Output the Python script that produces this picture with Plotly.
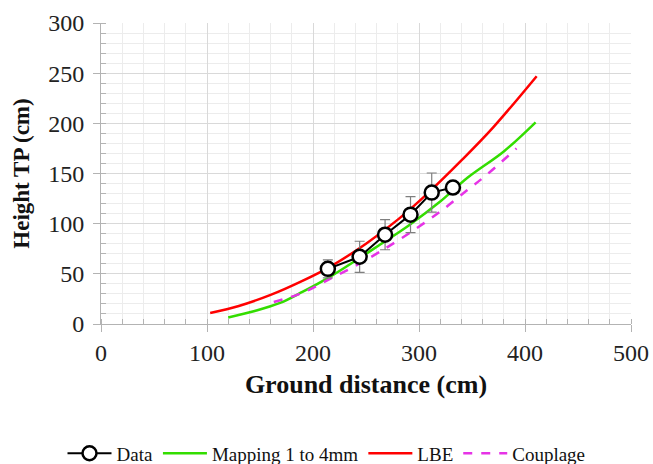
import plotly.graph_objects as go

# Measured data points
data_x = [214, 244, 268, 292, 312, 332]
data_y = [55, 67, 89, 109, 131, 136]
data_err = [9, 15.5, 15, 18, 19.5, 0]

# Model curves
map_x = [120, 145, 169, 190, 216, 240, 263, 290, 320, 346, 380, 410]
map_y = [6.5, 13, 21, 32, 47, 63, 79, 98, 122, 146, 172, 201]

lbe_x = [103, 130, 160, 190, 216, 250, 280, 310, 340, 370, 411]
lbe_y = [11, 18, 29, 43, 57, 80, 104, 132, 163, 196, 247]

coup_x = [163, 190, 216, 240, 263, 290, 320, 345, 363, 392]
coup_y = [22, 31, 45, 58, 72, 90, 112, 133, 148, 175]

FONT = "Liberation Serif, Times New Roman, serif"

fig = go.Figure()
fig.add_trace(go.Scatter(
    x=map_x, y=map_y, name="Mapping 1 to 4mm", mode="lines", legendrank=2,
    line=dict(color="#33dd00", width=2.5, shape="spline"),
))
fig.add_trace(go.Scatter(
    x=lbe_x, y=lbe_y, name="LBE", mode="lines", legendrank=3,
    line=dict(color="#ff0000", width=2.5, shape="spline"),
))
fig.add_trace(go.Scatter(
    x=coup_x, y=coup_y, name="Couplage", mode="lines", legendrank=4,
    line=dict(color="#e633e6", width=2.5, dash="dash", shape="spline"),
))
fig.add_trace(go.Scatter(
    x=data_x, y=data_y, name="Data", mode="lines+markers", legendrank=1,
    line=dict(color="black", width=2),
    marker=dict(symbol="circle", size=14, color="white", line=dict(color="black", width=2.5)),
    error_y=dict(type="data", array=data_err, visible=True, color="#7f7f7f", thickness=1.2, width=5),
))

axis_common = dict(
    showline=True, linecolor="#b3b3b3", linewidth=1,
    gridcolor="#d9d9d9", gridwidth=1,
    ticks="outside", ticklen=7, tickcolor="#b3b3b3",
    tickfont=dict(family=FONT, size=24, color="#222"),
    zeroline=False, mirror=False,
)

fig.update_xaxes(
    range=[0, 500], dtick=100, **axis_common,
    minor=dict(dtick=20, showgrid=True, gridcolor="#ececec", ticks="inside", ticklen=5, tickcolor="#b3b3b3"),
    title=dict(text="<b>Ground distance (cm)</b>", font=dict(family=FONT, size=26, color="#111"), standoff=10),
    ticklabelstandoff=0,
)
fig.update_yaxes(
    range=[0, 300], dtick=50, **axis_common,
    minor=dict(dtick=10, showgrid=True, gridcolor="#ececec", ticks="inside", ticklen=5, tickcolor="#b3b3b3"),
    title=dict(text="<b>Height TP (cm)</b>", font=dict(family=FONT, size=23, color="#111"), standoff=12),
    ticklabelstandoff=4,
)

fig.update_layout(
    width=653, height=464,
    margin=dict(l=101, r=22, t=23, b=140, autoexpand=False),
    plot_bgcolor="white", paper_bgcolor="white",
    showlegend=True,
    legend=dict(
        orientation="h", xref="container", x=0.5, xanchor="center",
        y=-0.43, yanchor="middle", traceorder="normal",
        font=dict(family=FONT, size=19, color="#111"),
        itemwidth=44,
    ),
)

fig.write_html(
    "out.html",
    config={"displayModeBar": False},
    post_script="document.body.style.margin='0';document.body.style.overflow='hidden';",
)
